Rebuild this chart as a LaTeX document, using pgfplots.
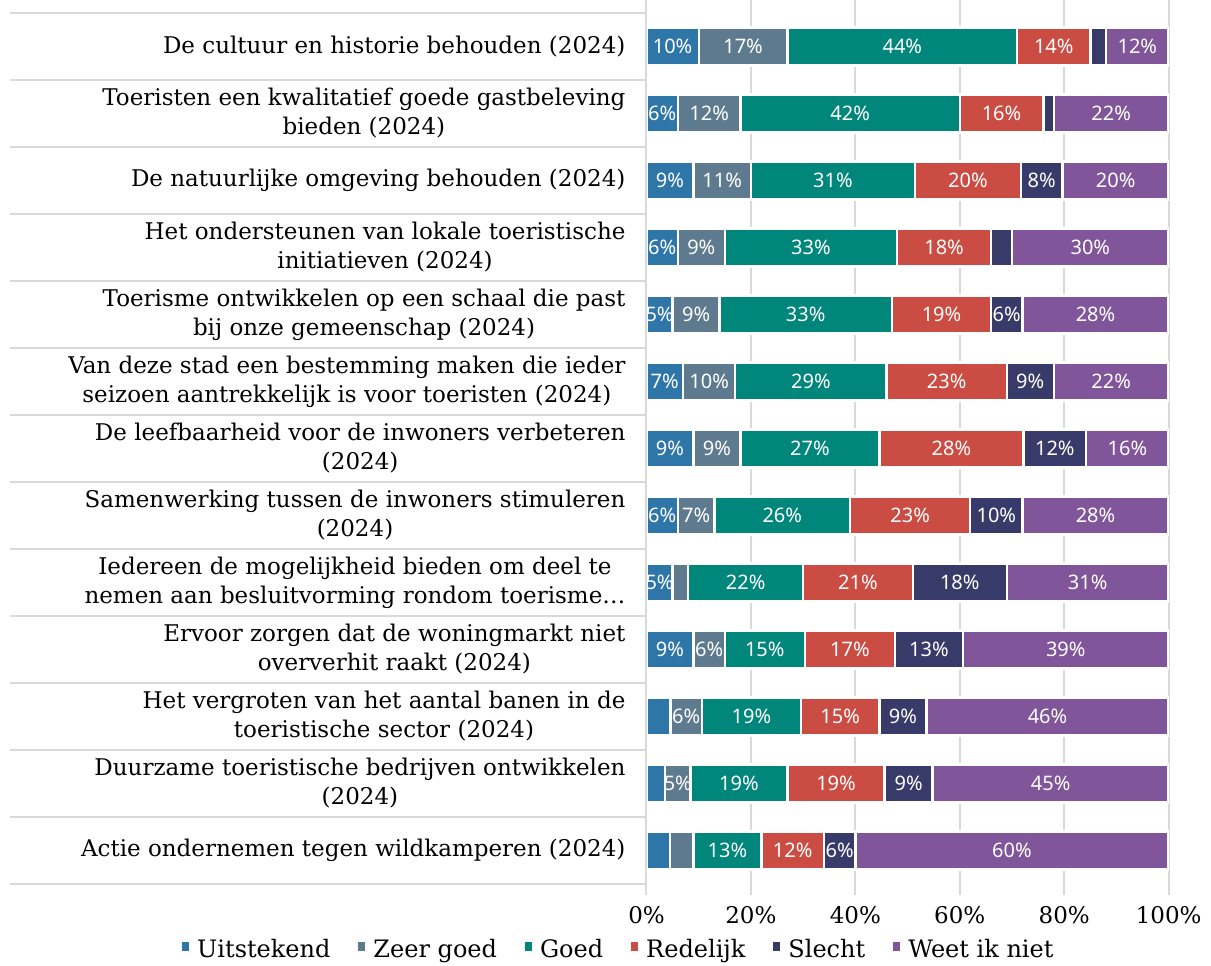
\documentclass[border=0pt]{standalone}
\usepackage{pgfplots}
\pgfplotsset{compat=1.18}
\usepackage{pgfplotstable}
\usepackage{fontspec}
\setmainfont{DejaVu Serif}
\newfontfamily\labelfont{Noto Sans}
\definecolor{cU}{HTML}{2E75A8}
\definecolor{cZ}{HTML}{5E7A8F}
\definecolor{cG}{HTML}{00867A}
\definecolor{cR}{HTML}{CB4C43}
\definecolor{cS}{HTML}{383B69}
\definecolor{cW}{HTML}{80559A}
\definecolor{gridc}{HTML}{D9D9D9}

\pgfplotstableread{
idx U Z G R S W
0 10 17 44 14 3 12
1 6 12 42 16 2 22
2 9 11 31.4 20.3 8 20.3
3 6 9 33 18 4 30
4 5 9 33 19 6 28
5 7 10 29 23 9 22
6 9 9 26.6 27.6 12 15.8
7 6 7 26 23 10 28
8 5 3 22 21 18 31
9 9 6 15.3 17.3 13 39.4
10 4.6 6 19 15 9 46.4
11 3.6 4.8 18.6 18.6 9.2 45.2
12 4.5 4.5 13 12 6 60
}\data

\pgfplotsset{
  lbl/.style={
    visualization depends on={\thisrow{#1}\as\rawval},
    nodes near coords={\ifdim\rawval pt<4.7pt\relax\else\makebox[0pt][c]{\pgfmathprintnumber[fixed,precision=0]{\rawval}\%}\fi},
    every node near coord/.append style={text=white, inner sep=0pt, font=\labelfont\fontsize{10}{12}\selectfont},
  },
}

\begin{document}
\begin{tikzpicture}
\path[use as bounding box] (0,0) rectangle (605.5pt,482.5pt);
\begin{axis}[
  at={(323.25pt,35pt)}, anchor=south west,
  scale only axis, width=261.2pt, height=447.5pt,
  xbar stacked, bar width=0.57,
  xmin=0, xmax=100.05,
  ymin=-0.694, ymax=12.664, y dir=reverse,
  axis line style={draw=none},
  xmajorgrids, grid style={gridc, line width=1pt},
  xtick={0,20,...,100},
  xticklabel={\pgfmathprintnumber{\tick}\%},
  /pgf/number format/assume math mode=true,
  xticklabel style={font=\fontsize{11.5}{13}\selectfont, yshift=-2pt},
  tick style={draw=gridc, line width=1pt},
  major tick length=0pt,
  xtick pos=bottom, ytick pos=left,
  ytick={0,...,12},
  yticklabels={
    {De cultuur en historie behouden (2024)},
    {Toeristen een kwalitatief goede gastbeleving\\bieden (2024)},
    {De natuurlijke omgeving behouden (2024)},
    {Het ondersteunen van lokale toeristische\\initiatieven (2024)},
    {Toerisme ontwikkelen op een schaal die past\\bij onze gemeenschap (2024)},
    {Van deze stad een bestemming maken die ieder\\seizoen aantrekkelijk is voor toeristen (2024)},
    {De leefbaarheid voor de inwoners verbeteren\\(2024)},
    {Samenwerking tussen de inwoners stimuleren\\(2024)},
    {Iedereen de mogelijkheid bieden om deel te\\nemen aan besluitvorming rondom toerisme…},
    {Ervoor zorgen dat de woningmarkt niet\\oververhit raakt (2024)},
    {Het vergroten van het aantal banen in de\\toeristische sector (2024)},
    {Duurzame toeristische bedrijven ontwikkelen\\(2024)},
    {Actie ondernemen tegen wildkamperen (2024)}},
  yticklabel style={align=center, anchor=east, font=\fontsize{11.5}{14.5}\selectfont, xshift=-7pt},
  extra y ticks={-0.5,0.5,...,12.5},
  extra y tick labels={},
  extra y tick style={major tick length=318pt, tick align=outside, grid=none},
  legend columns=6,
  legend style={at={(-0.051,-0.0615)}, anchor=center, draw=none, fill=none,
    font=\fontsize{12}{14}\selectfont,
    /tikz/every odd column/.append style={column sep=2pt},
    /tikz/every even column/.append style={column sep=12pt}},
  legend image code/.code={\fill[#1,draw=none] (0pt,-0.5pt) rectangle (3.5pt,4pt);},
]
\addplot[fill=cU, draw=white, line width=1.2pt, lbl=U] table[x=U, y=idx]{\data};
\addplot[fill=cZ, draw=white, line width=1.2pt, lbl=Z] table[x=Z, y=idx]{\data};
\addplot[fill=cG, draw=white, line width=1.2pt, lbl=G] table[x=G, y=idx]{\data};
\addplot[fill=cR, draw=white, line width=1.2pt, lbl=R] table[x=R, y=idx]{\data};
\addplot[fill=cS, draw=white, line width=1.2pt, lbl=S] table[x=S, y=idx]{\data};
\addplot[fill=cW, draw=white, line width=1.2pt, lbl=W] table[x=W, y=idx]{\data};
\legend{Uitstekend, Zeer goed, Goed, Redelijk, Slecht, Weet ik niet}
\end{axis}
\end{tikzpicture}
\end{document}
